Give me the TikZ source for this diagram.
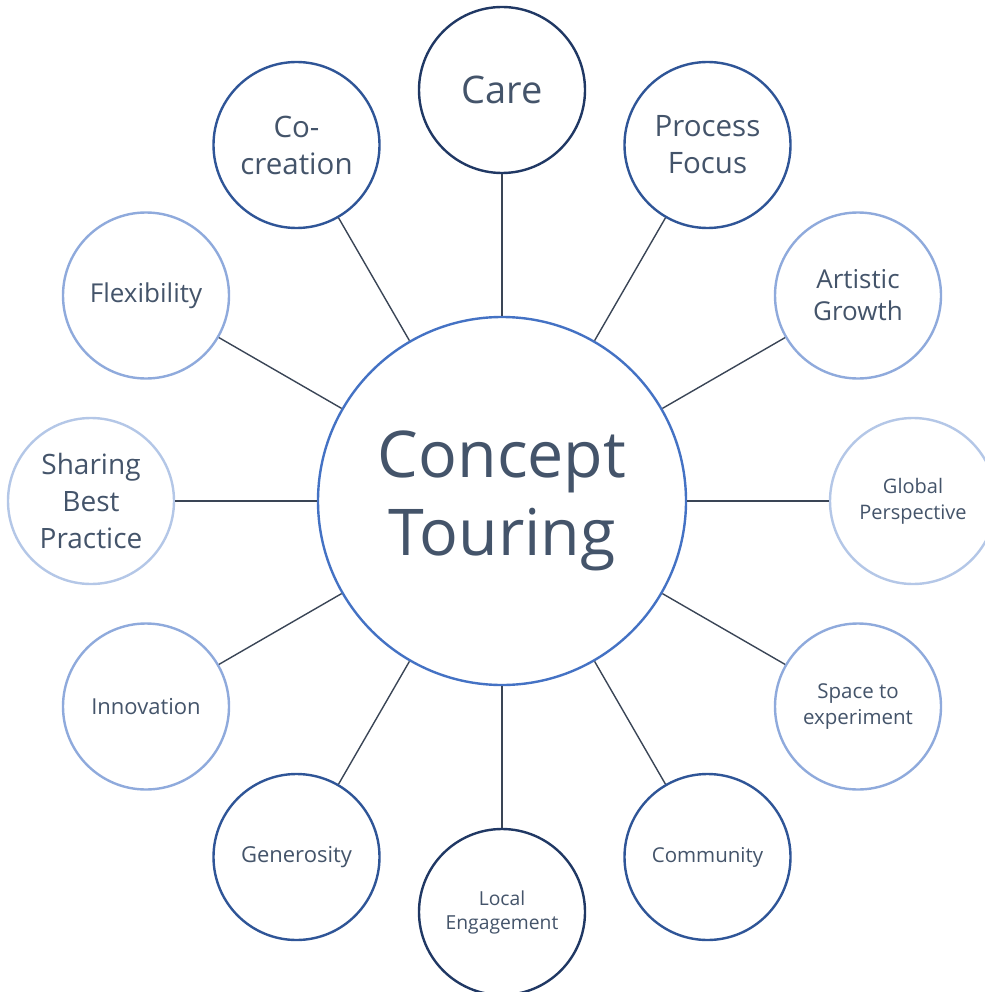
\documentclass[tikz,border=0pt]{standalone}
\usepackage{fontspec}
\setmainfont{Open Sans}
\usetikzlibrary{calc}
\definecolor{txt}{HTML}{44546A}
\definecolor{link}{HTML}{3A4556}
\definecolor{navy}{HTML}{203864}
\definecolor{mid}{HTML}{2F5597}
\definecolor{soft}{HTML}{8FAADC}
\definecolor{pale}{HTML}{B4C7E7}
\definecolor{hubblue}{HTML}{4472C4}
\newcommand{\fs}[2]{\fontsize{#1}{#2}\selectfont}
\begin{document}
\begin{tikzpicture}[x=1pt,y=-1pt,
  bubble/.style={circle,draw,line width=2.4pt,fill=white,minimum size=166pt,
    inner sep=0pt,align=center,text=txt},
  hubnode/.style={circle,draw=hubblue,line width=2.4pt,fill=white,minimum size=368pt,
    inner sep=0pt,align=center,text=txt,font=\fs{64.5}{78}},
  spoke/.style={draw=link,line width=1.4pt}]
\useasboundingbox (0,0) rectangle (984,992);
\coordinate (c) at (502,501);
\node[hubnode] (hub) at (c) {\raisebox{-3pt}{\begin{tabular}{@{}c@{}}Concept\\Touring\end{tabular}}};
\node[bubble,draw=navy,font=\fs{38}{46}] (care) at ($(c)+(0,-411)$) {Care};
\node[bubble,draw=mid,font=\fs{29.5}{37}] (process) at ($(c)+(205.5,-356)$) {Process\\Focus};
\node[bubble,draw=soft,font=\fs{26}{32}] (artistic) at ($(c)+(356,-205.5)$) {Artistic\\Growth};
\node[bubble,draw=pale,font=\fs{20}{26}] (global) at ($(c)+(411,0)$) {Global\\Perspective};
\node[bubble,draw=soft,font=\fs{20.5}{26}] (space) at ($(c)+(356,205.5)$) {Space to\\experiment};
\node[bubble,draw=mid,font=\fs{20.5}{28}] (community) at ($(c)+(205.5,356)$) {Community};
\node[bubble,draw=navy,font=\fs{19.3}{24}] (local) at ($(c)+(0,411)$) {Local\\Engagement};
\node[bubble,draw=mid,font=\fs{22}{28}] (generosity) at ($(c)+(-205.5,356)$) {Generosity};
\node[bubble,draw=soft,font=\fs{22}{28}] (innovation) at ($(c)+(-356,205.5)$) {Innovation};
\node[bubble,draw=pale,font=\fs{28}{37}] (sharing) at ($(c)+(-411,0)$) {Sharing\\Best\\Practice};
\node[bubble,draw=soft,font=\fs{26}{30}] (flexibility) at ($(c)+(-356,-205.5)$) {Flexibility};
\node[bubble,draw=mid,font=\fs{29.5}{37}] (cocreation) at ($(c)+(-205.5,-356)$) {Co-\\creation};
\foreach \n in {care,process,artistic,global,space,community,local,generosity,innovation,sharing,flexibility,cocreation}
  \draw[spoke] (hub) -- (\n);
\end{tikzpicture}
\end{document}
